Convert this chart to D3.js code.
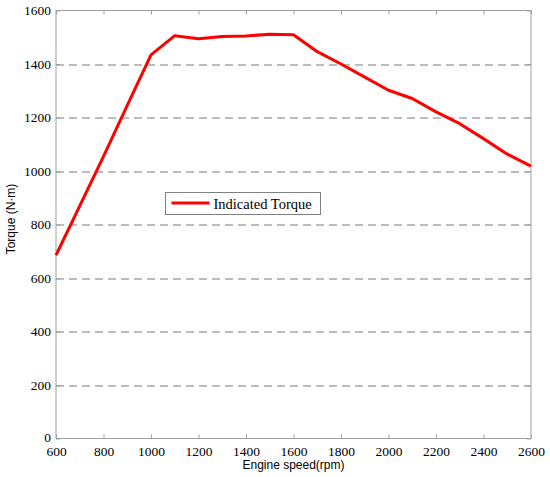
<!DOCTYPE html>
<html>
<head>
<meta charset="utf-8">
<script src="https://cdn.jsdelivr.net/npm/d3@7"></script>
<style>
  body { margin: 0; background: #fff; }
  svg { display: block; }
</style>
</head>
<body>
<div id="chart"></div>
<script>
// engine speed (rpm) and indicated torque (N·m)
var speeds = [600, 700, 800, 900, 1000, 1100, 1200, 1300, 1400, 1500, 1600, 1700, 1800, 1900, 2000, 2100, 2200, 2300, 2400, 2500, 2600];
var torque = [685, 870, 1055, 1245, 1434, 1506, 1494, 1503, 1505, 1511, 1509, 1446, 1400, 1351, 1302, 1271, 1221, 1177, 1121, 1063, 1018];
var xTicks = [600, 800, 1000, 1200, 1400, 1600, 1800, 2000, 2200, 2400, 2600];
var yTicks = [0, 200, 400, 600, 800, 1000, 1200, 1400, 1600];
var seriesName = "Indicated Torque";

var W = 550, H = 477;
var margin = {top: 10.5, right: 19, bottom: 38.5, left: 56};
var width = W - margin.left - margin.right;
var height = H - margin.top - margin.bottom;

var svg = d3.select("#chart").append("svg")
  .attr("width", W)
  .attr("height", H);

var g = svg.append("g")
  .attr("transform", "translate(" + margin.left + "," + margin.top + ")");

var x = d3.scaleLinear().domain([600, 2600]).range([0, width]);
var y = d3.scaleLinear().domain([0, 1600]).range([height, 0]);

var serif = "'Liberation Serif', 'Times New Roman', serif";
var sans = "'Liberation Sans', Arial, sans-serif";
var fmt = d3.format("d");

// dashed grid
g.selectAll(".grid")
  .data(yTicks.filter(function(d) { return d > 0 && d < 1600; }))
  .enter().append("line")
  .attr("x1", 0).attr("x2", width)
  .attr("y1", function(d) { return Math.round(y(d)) + 0.5; })
  .attr("y2", function(d) { return Math.round(y(d)) + 0.5; })
  .attr("stroke", "#7a7a7a")
  .attr("stroke-width", 1)
  .attr("stroke-dasharray", "8,5");

// box
g.append("rect")
  .attr("x", 0).attr("y", 0)
  .attr("width", width).attr("height", height)
  .attr("fill", "none")
  .attr("stroke", "#a0a0a0")
  .attr("stroke-width", 1);

// axes, ticks pointing inward
var xAxis = d3.axisBottom(x).tickValues(xTicks).tickFormat(fmt).tickSizeInner(-4).tickSizeOuter(0).tickPadding(8);
var xa = g.append("g").attr("transform", "translate(0," + height + ")").call(xAxis);
var xTop = d3.axisTop(x).tickValues(xTicks).tickSizeInner(-4).tickSizeOuter(0).tickFormat("");
var xt = g.append("g").call(xTop);

var yAxis = d3.axisLeft(y).tickValues(yTicks).tickFormat(fmt).tickSizeInner(-4).tickSizeOuter(0).tickPadding(5);
var ya = g.append("g").call(yAxis);
var yRight = d3.axisRight(y).tickValues(yTicks).tickSizeInner(-4).tickSizeOuter(0).tickFormat("");
var yr = g.append("g").attr("transform", "translate(" + width + ",0)").call(yRight);

[xa, xt, ya, yr].forEach(function(a) {
  a.attr("font-family", serif).attr("font-size", 13.5);
  a.select(".domain").remove();
  a.selectAll(".tick line").attr("stroke", "#a0a0a0");
  a.selectAll("text").attr("fill", "#000");
});

// the "0" label sits a little above the corner
ya.selectAll(".tick text").filter(function(d) { return d === 0; }).attr("dy", "0.2em");

// torque line
var line = d3.line()
  .x(function(d, i) { return x(speeds[i]); })
  .y(function(d) { return y(d); });

g.append("path")
  .datum(torque)
  .attr("d", line)
  .attr("fill", "none")
  .attr("stroke", "#ff0000")
  .attr("stroke-width", 3)
  .attr("stroke-linejoin", "round");

// legend
var leg = svg.append("g").attr("transform", "translate(165.5,192.5)");
leg.append("rect")
  .attr("width", 155).attr("height", 22)
  .attr("fill", "#fff")
  .attr("stroke", "#808080")
  .attr("stroke-width", 1);
leg.append("line")
  .attr("x1", 6).attr("x2", 44)
  .attr("y1", 10.5).attr("y2", 10.5)
  .attr("stroke", "#ff0000")
  .attr("stroke-width", 3);
leg.append("text")
  .attr("x", 48).attr("y", 16)
  .style("font-family", serif)
  .style("font-size", "14.5px")
  .text(seriesName);

// axis titles
svg.append("text")
  .attr("x", margin.left + width / 2)
  .attr("y", 469)
  .attr("text-anchor", "middle")
  .style("font-family", sans)
  .style("font-size", "12px")
  .text("Engine speed(rpm)");

svg.append("text")
  .attr("transform", "translate(15,219) rotate(-90)")
  .attr("text-anchor", "middle")
  .style("font-family", sans)
  .style("font-size", "12px")
  .text("Torque (N·m)");
</script>
</body>
</html>
